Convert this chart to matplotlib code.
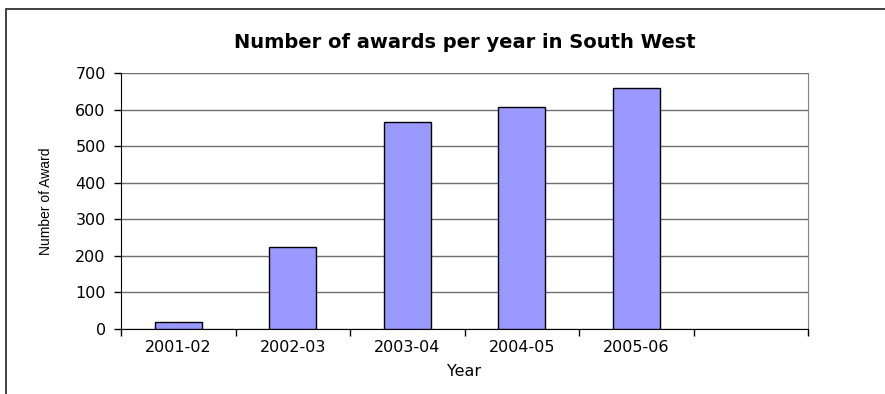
import matplotlib.pyplot as plt
import numpy as np
from matplotlib.patches import Rectangle

plt.rcParams["font.family"] = ["DejaVu Sans"]

years = ["2001-02", "2002-03", "2003-04", "2004-05", "2005-06", ""]
awards = [20, 225, 565, 608, 658, 0]
y_ticks = [0, 100, 200, 300, 400, 500, 600, 700]

W, H = 885, 394
fig = plt.figure(figsize=(W / 100, H / 100), dpi=100)
ax = fig.add_axes([121 / W, 1 - 329 / H, (808 - 121) / W, (329 - 73) / H])

# outer chart frame, cut off by the image edges
fig.patches.append(Rectangle((6 / W, -0.1), 1.2, 1 - 9 / H + 0.1, transform=fig.transFigure,
                             fill=False, edgecolor="#202020", linewidth=1.2))

positions = np.arange(len(years))
shown = [v if label else np.nan for v, label in zip(awards, years)]
ax.bar(positions, shown, width=0.41, color="#9999FF", edgecolor="black", linewidth=1, zorder=3)

ax.set_xlim(-0.5, len(years) - 0.5)
ax.set_ylim(0, 700)
ax.set_yticks(y_ticks)
ax.yaxis.grid(True, color="#6e6e6e", linewidth=1)
ax.set_axisbelow(True)

ax.set_xticks(positions, years)
ax.set_xticks(np.arange(len(years) + 1) - 0.5, minor=True)
ax.tick_params(axis="x", which="major", length=0, pad=8, labelsize=11.5)
ax.tick_params(axis="x", which="minor", length=5, width=1, color="black")
ax.tick_params(axis="y", length=5, width=1, pad=6, labelsize=11.5)

for side in ("left", "bottom"):
    ax.spines[side].set_color("black")
ax.spines["right"].set_color("#808080")
ax.spines["top"].set_visible(False)

ax.set_xlabel("Year", fontsize=11.5)
ax.xaxis.set_label_coords(0.5, -(364 - 329) / 256)
ax.set_ylabel("Number of Award", fontsize=10, family=["Liberation Sans", "DejaVu Sans"])
ax.yaxis.set_label_coords((53 - 121) / 687, 0.5)
ax.set_title("Number of awards per year in South West", fontsize=14, fontweight="bold", pad=18)

fig.savefig("out.png", dpi=100)
